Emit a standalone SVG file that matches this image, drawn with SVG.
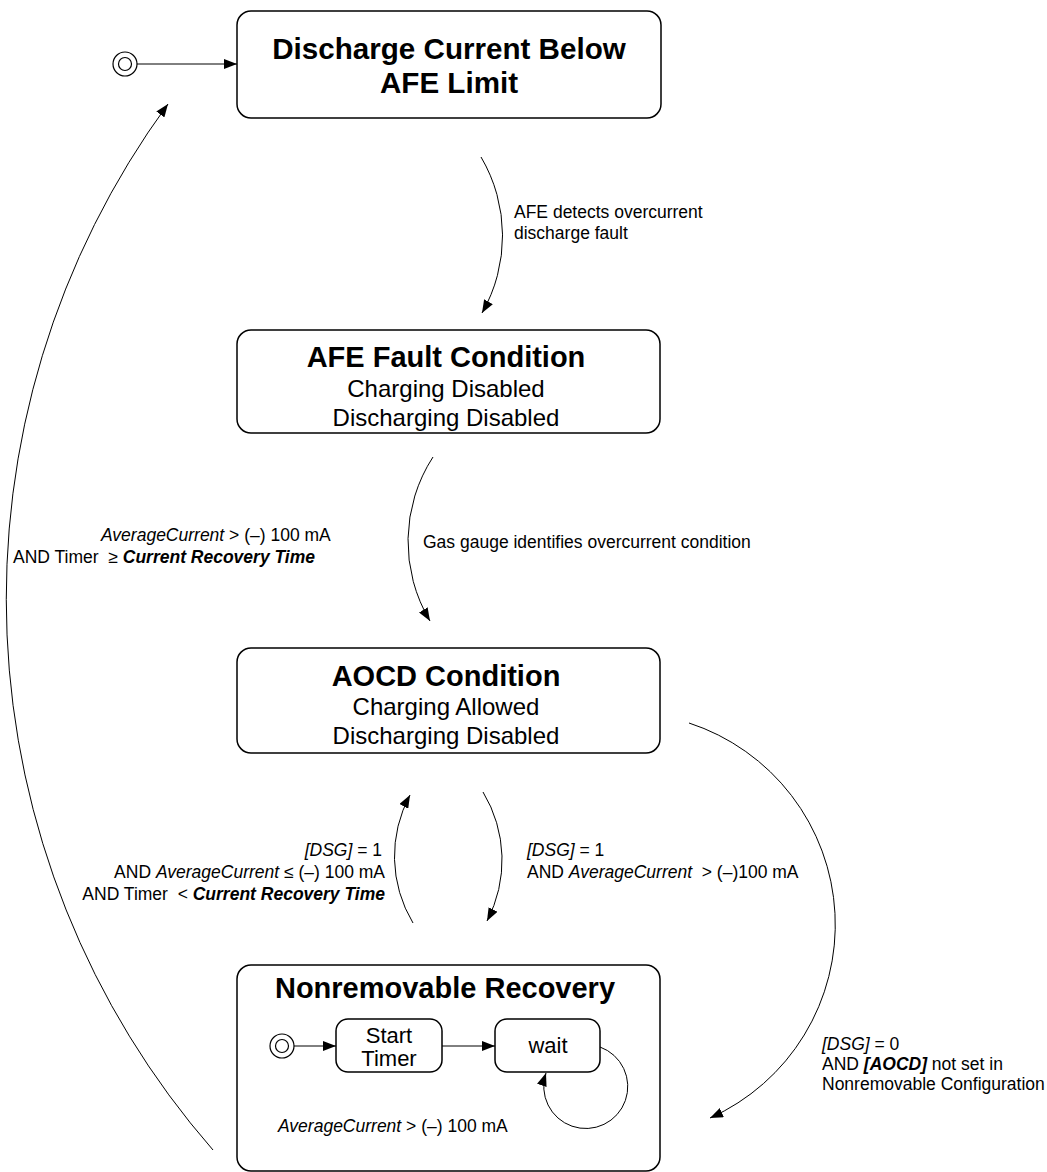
<svg xmlns="http://www.w3.org/2000/svg" width="1047" height="1172" viewBox="0 0 1047 1172">
<defs>
<marker id="ah" markerUnits="userSpaceOnUse" markerWidth="13" markerHeight="10" refX="13" refY="5" orient="auto">
<path d="M0,0 L13,5 L0,10 z" fill="#000"/>
</marker>
<style>
.box{fill:#fff;stroke:#000;stroke-width:1.5}
text{font-family:"Liberation Sans",Arial,sans-serif;fill:#000;white-space:pre}
.title{font-size:29px;font-weight:bold;text-anchor:middle}
.big{font-size:29.6px}
.sub{font-size:24px;text-anchor:middle}
.inner{font-size:22px;text-anchor:middle}
.lbl{font-size:17.5px}
.end{text-anchor:end}
.i{font-style:italic}
.bi{font-style:italic;font-weight:bold}
.conn{fill:none;stroke:#000;stroke-width:1;marker-end:url(#ah)}
.ring{fill:#fff;stroke:#000;stroke-width:1.2}
</style>
</defs>
<rect width="1047" height="1172" fill="#fff"/>

<g id="init-top">
<circle class="ring" cx="125" cy="64" r="12"/>
<circle class="ring" cx="125" cy="64" r="6.5"/>
</g>

<g id="discharge-below">
<rect class="box" x="237" y="11" width="424" height="107" rx="14"/>
<text class="title big" x="449" y="59">Discharge Current Below</text>
<text class="title big" x="449" y="93">AFE Limit</text>
</g>

<g id="afe-fault">
<rect class="box" x="237" y="330" width="423" height="103" rx="14"/>
<text class="title" x="446" y="367">AFE Fault Condition</text>
<text class="sub" x="446" y="397">Charging Disabled</text>
<text class="sub" x="446" y="426">Discharging Disabled</text>
</g>

<g id="aocd">
<rect class="box" x="237" y="648" width="423" height="105" rx="14"/>
<text class="title" x="446" y="686">AOCD Condition</text>
<text class="sub" x="446" y="715">Charging Allowed</text>
<text class="sub" x="446" y="744">Discharging Disabled</text>
</g>

<g id="nonremovable-recovery">
<rect class="box" x="237" y="965" width="423" height="206" rx="14"/>
<text class="title" x="445" y="998">Nonremovable Recovery</text>
<g id="init-inner">
<circle class="ring" cx="282" cy="1046" r="12"/>
<circle class="ring" cx="282" cy="1046" r="6.5"/>
</g>
<g id="start-timer">
<rect class="box" x="336" y="1019" width="106" height="53" rx="12"/>
<text class="inner" x="389" y="1043">Start</text>
<text class="inner" x="389" y="1066">Timer</text>
</g>
<g id="wait">
<rect class="box" x="495" y="1019" width="105" height="53" rx="12"/>
<text class="inner" x="548" y="1053">wait</text>
</g>
<text class="lbl" x="278" y="1132"><tspan class="i">AverageCurrent</tspan> &gt; (–) 100 mA</text>
</g>

<g id="connectors">
<path class="conn" d="M137,64 L237,64"/>
<path class="conn" d="M481,157 A155,155 0 0 1 482,313"/>
<path class="conn" d="M433,457 A155,155 0 0 0 430,621"/>
<path class="conn" d="M483,792 A131,131 0 0 1 487,921"/>
<path class="conn" d="M413,923 A129,129 0 0 1 410,795"/>
<path class="conn" d="M689,723 A212,212 0 0 1 710,1118"/>
<path class="conn" d="M213,1150 A838,838 0 0 1 168,104"/>
<path class="conn" d="M294,1046 L336,1046"/>
<path class="conn" d="M442,1046 L495,1046"/>
<path class="conn" d="M600,1047 A42,42 0 1 1 546,1073"/>
</g>

<g id="labels">
<text class="lbl" x="514" y="218">AFE detects overcurrent</text>
<text class="lbl" x="514" y="239">discharge fault</text>
<text class="lbl" x="423" y="548">Gas gauge identifies overcurrent condition</text>
<text class="lbl" x="101" y="541"><tspan class="i">AverageCurrent</tspan> &gt; (–) 100 mA</text>
<text class="lbl" x="13" y="563">AND Timer  ≥ <tspan class="bi">Current Recovery Time</tspan></text>
<text class="lbl end" x="382" y="856"><tspan class="i">[DSG]</tspan> = 1</text>
<text class="lbl end" x="385" y="878">AND <tspan class="i">AverageCurrent</tspan> ≤ (–) 100 mA</text>
<text class="lbl end" x="385" y="900">AND Timer  &lt; <tspan class="bi">Current Recovery Time</tspan></text>
<text class="lbl" x="527" y="856"><tspan class="i">[DSG]</tspan> = 1</text>
<text class="lbl" x="527" y="878">AND <tspan class="i">AverageCurrent</tspan>  &gt; (–)100 mA</text>
<text class="lbl" x="822" y="1050"><tspan class="i">[DSG]</tspan> = 0</text>
<text class="lbl" x="822" y="1070">AND <tspan class="bi">[AOCD]</tspan> not set in</text>
<text class="lbl" x="822" y="1090">Nonremovable Configuration</text>
</g>
</svg>
